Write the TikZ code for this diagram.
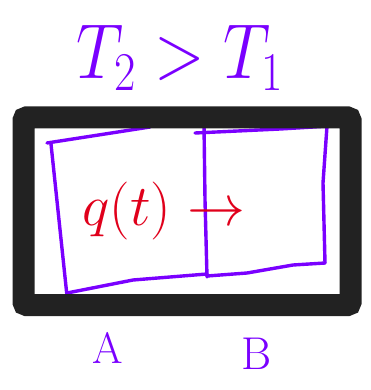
\RequirePackage{fix-cm}
\documentclass[tikz,border=0pt]{standalone}
\usepackage{graphicx}
\usepackage{tikz}
\usetikzlibrary{positioning}

\definecolor{inkviolet}{HTML}{7A00FF}
\definecolor{inkred}{HTML}{E0001B}
\definecolor{boxblack}{HTML}{222222}

\begin{document}
\begin{tikzpicture}[
  x=1pt, y=-1pt,
  pen/.style={draw=inkviolet, line width=3.4pt, line cap=round, line join=round},
  frame/.style={draw=boxblack, line width=22pt, rounded corners=3pt},
  lbl/.style={text=inkviolet, inner sep=0pt},
  flux/.style={text=inkred, inner sep=0pt},
]
\useasboundingbox (0,0) rectangle (371,390);

% --- the two cells (A left, B right) ---
\draw[pen] (47,143) -- (150,127);
\draw[pen] (51,144) -- (59,220) -- (67,296);
\draw[pen] (67,293) -- (133,280) -- (207,274);
\draw[pen] (204,125) -- (205,200) -- (207,277);
\draw[pen] (195,133) -- (280,129) -- (330,126);
\draw[pen] (327,126) -- (323,183) -- (325,263);
\draw[pen] (325,263) -- (293,265) -- (247,273) -- (207,276);

% --- outer frame ---
\draw[frame] (23.5,117.5) rectangle (350.5,305);

% --- labels ---
\node[lbl] (temps) at (180,58)
  {\scalebox{0.85}[1]{\fontsize{78}{78}\selectfont$T_2 > T_1$}};
\node[flux, font=\fontsize{58}{58}\selectfont] (rate) at (164,211) {$q(t)\rightarrow$};
\node[lbl, font=\fontsize{44}{44}\selectfont] (sideA) at (108,348) {A};
\node[lbl, font=\fontsize{46}{46}\selectfont] (sideB) at (257,354) {B};

\end{tikzpicture}
\end{document}
